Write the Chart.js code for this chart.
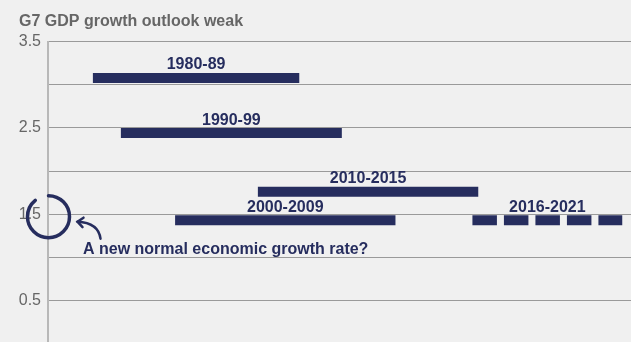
<!DOCTYPE html>
<html>
<head>
<meta charset="utf-8">
<script src="https://cdn.jsdelivr.net/npm/chart.js@4/dist/chart.umd.min.js"></script>
<style>
  html, body { margin: 0; padding: 0; background: #f0f0f0; overflow: hidden; }
  #wrap { position: relative; width: 631px; height: 360px; }
</style>
</head>
<body>
<div id="wrap"><canvas id="growth"></canvas></div>
<script>
// Average G7 GDP growth per period (%), drawn as horizontal bands
const periods = ['1980-89', '1990-99', '2000-2009', '2010-2015', '2016-2021'];
const growthRate = [3.08, 2.44, 1.43, 1.76, 1.43];
// where each band starts and ends along the (schematic) timeline, 0-100
const bandStart = [7.7, 12.5, 21.8, 36.0, 72.8];
const bandEnd = [43.1, 50.4, 59.6, 73.8, 98.5];
const isForecast = [false, false, false, false, true];
const yTicks = [0.5, 1.5, 2.5, 3.5];

const NAVY = '#262d5e';
const FONT = '"Liberation Sans", Arial, Helvetica, sans-serif';

const datasets = periods.map((label, i) => ({
    label,
    data: [{ x: bandStart[i], y: growthRate[i] }, { x: bandEnd[i], y: growthRate[i] }],
    borderColor: NAVY,
    borderWidth: 10,
    borderCapStyle: 'butt',
    borderDash: isForecast[i] ? [24.5, 7] : [],
    pointRadius: 0,
    tension: 0
}));

// period names centred above each band
const bandLabels = {
    id: 'bandLabels',
    afterDatasetsDraw(chart) {
        const { ctx, scales: { x, y } } = chart;
        ctx.save();
        ctx.font = 'bold 16px ' + FONT;
        ctx.fillStyle = NAVY;
        ctx.textAlign = 'center';
        ctx.textBaseline = 'alphabetic';
        periods.forEach((label, i) => {
            const cx = (x.getPixelForValue(bandStart[i]) + x.getPixelForValue(bandEnd[i])) / 2;
            const cy = y.getPixelForValue(growthRate[i]) - 8.5;
            ctx.fillText(label, cx, cy);
        });
        ctx.restore();
    }
};

// ring around 1.5 on the axis with an arrow and question
const newNormal = {
    id: 'newNormal',
    afterDatasetsDraw(chart) {
        const { ctx, scales: { x, y } } = chart;
        const cx = x.getPixelForValue(0) + 0.5;
        const cy = y.getPixelForValue(1.47);
        ctx.save();
        ctx.strokeStyle = NAVY;
        ctx.lineCap = 'round';
        ctx.lineWidth = 3.5;
        ctx.beginPath();
        ctx.arc(cx, cy, 21, -Math.PI / 2, 231 * Math.PI / 180);
        ctx.stroke();

        // curved arrow pointing back at the ring
        const tx = cx + 29, ty = cy + 5;
        ctx.lineWidth = 2.5;
        ctx.beginPath();
        ctx.moveTo(cx + 52, cy + 22);
        ctx.quadraticCurveTo(cx + 50, cy + 6, tx, ty);
        ctx.stroke();
        ctx.beginPath();
        ctx.moveTo(tx + 6, ty - 4);
        ctx.lineTo(tx, ty);
        ctx.lineTo(tx + 5, ty + 5.5);
        ctx.stroke();

        ctx.font = 'bold 16px ' + FONT;
        ctx.fillStyle = NAVY;
        ctx.textAlign = 'left';
        ctx.fillText('A new normal economic growth rate?', cx + 34.5, cy + 37);
        ctx.restore();
    }
};

new Chart(document.getElementById('growth'), {
    type: 'line',
    data: { datasets },
    options: {
        responsive: true,
        maintainAspectRatio: false,
        animation: false,
        layout: { padding: { left: 19, right: 0, top: 0, bottom: 2 } },
        plugins: {
            legend: { display: false },
            tooltip: { enabled: false },
            title: {
                display: true,
                text: 'G7 GDP growth outlook weak',
                align: 'start',
                color: '#666666',
                font: { family: FONT, size: 16, weight: 'bold' },
                padding: { top: 12, bottom: 10.5 }
            }
        },
        scales: {
            x: { type: 'linear', min: 0, max: 100, display: false },
            y: {
                min: 0,
                max: 3.5,
                grid: { color: '#9a9a9a', lineWidth: 1, drawTicks: false },
                border: { color: '#b8b8b8', width: 2 },
                ticks: {
                    stepSize: 0.5,
                    padding: 7,
                    color: '#666666',
                    font: { family: FONT, size: 16 },
                    callback: v => yTicks.includes(v) ? v.toFixed(1) : ''
                },
                afterFit(scale) { scale.width = 29; }
            }
        }
    },
    plugins: [bandLabels, newNormal]
});
</script>
</body>
</html>
